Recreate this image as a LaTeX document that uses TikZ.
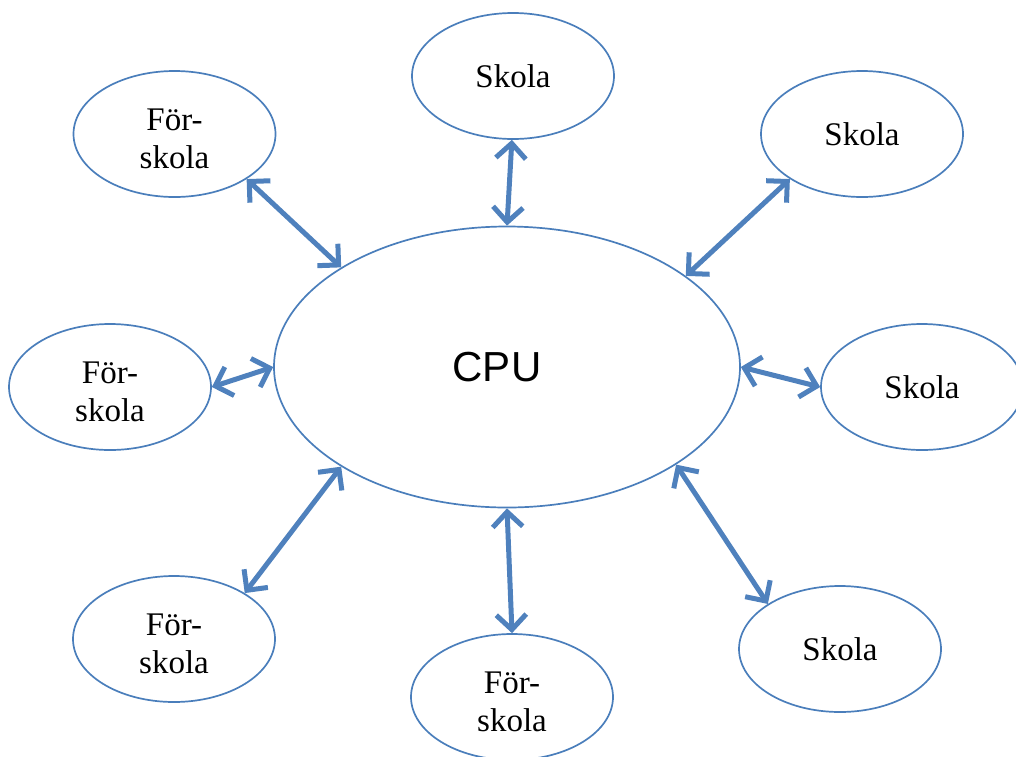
\documentclass[tikz,border=0pt]{standalone}
\usepackage{fontspec}
\setmainfont{Liberation Serif}
\newfontfamily\cpufont{Liberation Sans}
\usetikzlibrary{shapes.geometric,arrows.meta}
\definecolor{edgeblue}{HTML}{4A7EBB}
\definecolor{arrowblue}{HTML}{4F81BD}
\newcommand{\twoline}[2]{\raisebox{-14pt}[0pt][0pt]{\begin{tabular}{@{}c@{}}#1\\#2\end{tabular}}}
\begin{document}
\begin{tikzpicture}[x=1pt,y=-1pt,
  site/.style={ellipse, draw=edgeblue, line width=1.7pt, minimum width=202pt, minimum height=126pt,
    inner sep=0pt, align=center, font=\fontsize{33}{38}\selectfont},
  hub/.style={ellipse, draw=edgeblue, line width=1.7pt, minimum width=466pt, minimum height=281pt, inner sep=0pt},
  link/.style={draw=arrowblue, line width=5pt,
    {Straight Barb[length=15pt,width=30pt]}-{Straight Barb[length=15pt,width=30pt]}}]
\useasboundingbox (0,0) rectangle (1016,756);
\node[hub, label={[font=\cpufont\fontsize{42}{48}\selectfont, xshift=-10pt]center:CPU}] (cpu) at (507,367) {};
\node[site] (fs1) at (174.5,134) {\twoline{För-}{skola}};
\node[site] (sk1) at (513,76) {Skola};
\node[site] (sk2) at (862,134) {Skola};
\node[site] (sk3) at (922,387) {Skola};
\node[site] (sk4) at (840,649) {Skola};
\node[site] (fs4) at (512,697) {\twoline{För-}{skola}};
\node[site] (fs3) at (174,639) {\twoline{För-}{skola}};
\node[site] (fs2) at (110,387) {\twoline{För-}{skola}};
\draw[link] (fs1.-32) -- (cpu.149);
\draw[link] (sk1.-91) -- (cpu.90);
\draw[link] (sk2.212) -- (cpu.27);
\draw[link] (cpu.0) -- (sk3.180);
\draw[link] (cpu.-30) -- (sk4.148);
\draw[link] (cpu.-90) -- (fs4.90);
\draw[link] (cpu.211.5) -- (fs3.33);
\draw[link] (fs2.0) -- (cpu.180);
\end{tikzpicture}
\end{document}
